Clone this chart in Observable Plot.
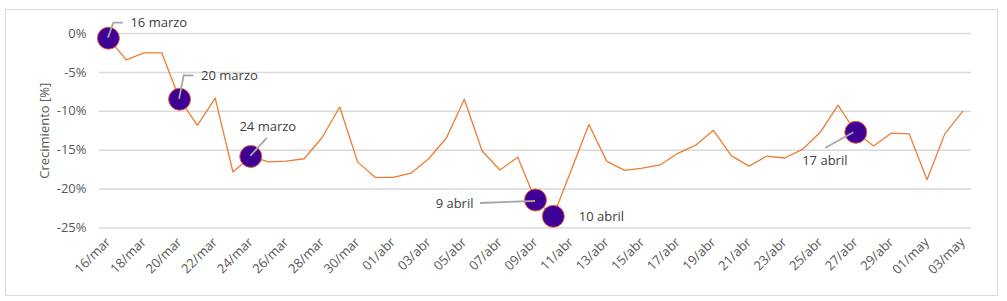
<!DOCTYPE html>
<html>
<head>
<meta charset="utf-8">
<script src="https://cdn.jsdelivr.net/npm/d3@7"></script>
<script src="https://cdn.jsdelivr.net/npm/@observablehq/plot@0.6"></script>
<style>
  html, body { margin: 0; padding: 0; background: #fff; overflow: hidden; }
  #wrap { position: relative; width: 1007px; height: 301px; }
  #border { position: absolute; left: 5px; top: 9px; width: 991px; height: 285px;
            border: 1.5px solid #D9D9D9; pointer-events: none; }
</style>
</head>
<body>
<div id="wrap"><div id="border"></div></div>
<script>
// ---- data ----
const dates = [
  "16/mar","17/mar","18/mar","19/mar","20/mar","21/mar","22/mar","23/mar","24/mar","25/mar",
  "26/mar","27/mar","28/mar","29/mar","30/mar","31/mar",
  "01/abr","02/abr","03/abr","04/abr","05/abr","06/abr","07/abr","08/abr","09/abr","10/abr",
  "11/abr","12/abr","13/abr","14/abr","15/abr","16/abr","17/abr","18/abr","19/abr","20/abr",
  "21/abr","22/abr","23/abr","24/abr","25/abr","26/abr","27/abr","28/abr","29/abr","30/abr",
  "01/may","02/may","03/may"
];
const growth = [
  -0.6, -3.4, -2.5, -2.5, -8.45, -11.8, -8.3, -17.8, -15.8, -16.5,
  -16.4, -16.1, -13.4, -9.45, -16.5, -18.5,
  -18.5, -17.95, -16.1, -13.4, -8.45, -15.1, -17.55, -15.9, -21.4, -23.5,
  -17.6, -11.7, -16.4, -17.6, -17.3, -16.9, -15.4, -14.35, -12.45, -15.7,
  -17.05, -15.75, -16.0, -14.9, -12.7, -9.2, -12.7, -14.45, -12.8, -12.9,
  -18.8, -12.9, -10.0
];
const xTickLabels = dates.filter((d, i) => i % 2 === 0);
const yTicks = [0, -5, -10, -15, -20, -25];
const highlightDates = ["16/mar", "20/mar", "24/mar", "09/abr", "10/abr", "27/abr"];
const highlightLabels = ["16 marzo", "20 marzo", "24 marzo", "9 abril", "10 abril", "17 abril"];

// ---- layout of annotations (pixel offsets from marker centre) ----
const labelLayout = [
  {dx: 22,  dy: -15,  anchor: "start",  leader: [[0, 0], [5.5, -15], [15, -15]]},
  {dx: 21.5, dy: -23.3, anchor: "start", leader: [[0, 0], [4.6, -23.3], [14.2, -23.3]]},
  {dx: 17,  dy: -29.5, anchor: "middle", leader: [[0, 0], [16.5, -18]]},
  {dx: -62, dy: 3.5,  anchor: "end",    leader: [[-55, 3.5], [0, 1.5]]},
  {dx: 25.5, dy: 0.3, anchor: "start",  leader: null},
  {dx: -31, dy: 29,   anchor: "middle", leader: [[-30, 16], [-2, 0.5]]}
];

const table = dates.map((d, i) => ({date: d, value: growth[i]}));
const highlights = highlightDates.map((d, i) => ({
  date: d, value: growth[dates.indexOf(d)], label: highlightLabels[i], layout: labelLayout[i]
}));

const leaders = (index, scales) => {
  const g = d3.create("svg:g")
    .attr("fill", "none").attr("stroke", "#A6A6A6").attr("stroke-width", 1.8);
  for (const h of highlights) {
    if (!h.layout.leader) continue;
    const cx = scales.x(h.date), cy = scales.y(h.value);
    g.append("path").attr("d", d3.line()(h.layout.leader.map(([dx, dy]) => [cx + dx, cy + dy])));
  }
  return g.node();
};

const chart = Plot.plot({
  width: 1007,
  height: 301,
  marginLeft: 99,
  marginRight: 36,
  marginTop: 33,
  marginBottom: 73.5,
  style: {fontFamily: "Open Sans", fontSize: "13px", color: "#595959", background: "transparent"},
  x: {type: "point", domain: dates, padding: 0.5},
  y: {domain: [-25, 0]},
  marks: [
    Plot.gridY(yTicks, {stroke: "#D9D9D9", strokeWidth: 1.5, strokeOpacity: 1}),
    Plot.axisY(yTicks, {tickSize: 0, tickPadding: 13, tickFormat: d => `${d}%`, fontSize: 13,
      label: "Crecimiento [%]", labelAnchor: "center", labelOffset: 60, labelArrow: "none"}),
    Plot.axisX(xTickLabels, {tickSize: 0, tickRotate: -45, tickPadding: 12, fontSize: 13, label: null}),
    Plot.line(table, {x: "date", y: "value", stroke: "#ED7D31", strokeWidth: 1.3}),
    Plot.dot(highlights, {x: "date", y: "value", r: 11, fill: "#3F0096", stroke: "#E8603C", strokeWidth: 1}),
    leaders,
    ...highlights.map(h => Plot.text([h], {x: "date", y: "value", text: "label",
      dx: h.layout.dx, dy: h.layout.dy, textAnchor: h.layout.anchor,
      fill: "#404040", fontSize: 13}))
  ]
});
document.getElementById("wrap").prepend(chart);
</script>
</body>
</html>
